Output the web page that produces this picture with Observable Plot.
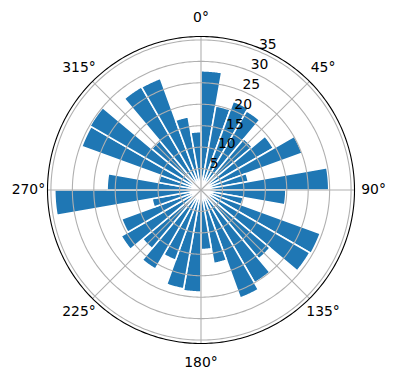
<!DOCTYPE html>
<html><head><meta charset="utf-8">
<script src="https://cdn.jsdelivr.net/npm/d3@7"></script>
<script src="https://cdn.jsdelivr.net/npm/@observablehq/plot@0.6"></script>
<style>body{margin:0;background:#fff}</style>
</head><body><div id="chart"></div>
<script>
// bar start angles (degrees, clockwise from north) and bar lengths
const barStart = [0,10,20,30,40,50,60,70,80,90,100,110,120,130,140,150,160,170,
                  180,190,200,210,220,230,240,250,260,270,280,290,300,310,320,330,340,350];
const barRadii = [27.8,19.9,22.0,21.3,15.6,19.5,25.1,11.2,29.8,
                  19.8,10.0,29.6,29.3,21.0,25.0,26.8,17.4,13.9,
                  23.8,23.4,17.4,21.3,17.8,21.5,19.7,11.6,34.1,
                  21.9,10.0,29.6,29.9,15.0,27.8,27.7,17.3,13.6];
const barSpan = 10;
const thetaTicks = [0,45,90,135,180,225,270,315];
const thetaLabels = ["0°","45°","90°","135°","180°","225°","270°","315°"];
const rTicks = [5,10,15,20,25,30,35];
const rMax = 35.8;
const thetaLabelR = 40.25;
const rLabelAngle = 22.5;

const lon = a => 180 - a;
const lat = r => 90 - r;

function sector(a0, a1, r) {
  const l1 = lon(a1), l2 = lon(a0), inner = 0.02;
  const ring = [[l1, lat(r)], [l1, lat(inner)], [l2, lat(inner)], [l2, lat(r)]];
  for (let L = l2 - 0.5; L > l1; L -= 0.5) ring.push([L, lat(r)]);
  ring.push([l1, lat(r)]);
  return {type: "Feature", geometry: {type: "Polygon", coordinates: [ring]}};
}
const bars = barStart.map((a, i) => sector(a, a + barSpan, barRadii[i]));
const circles = rTicks.map(r => d3.geoCircle().center([0, 90]).radius(r).precision(1)());
const spokes = thetaTicks.map(a => ({type: "LineString", coordinates: [[lon(a), 90], [lon(a), lat(rMax)]]}));
const outline = d3.geoCircle().center([0, 90]).radius(rMax).precision(1)();

const chart = Plot.plot({
  width: 396, height: 380,
  marginLeft: 47, marginRight: 42, marginTop: 36, marginBottom: 37,
  style: {fontFamily: "DejaVu Sans", fontSize: "13.9px", background: "#fff"},
  projection: {type: "azimuthal-equidistant", rotate: [0, -90], domain: outline, clip: false},
  marks: [
    Plot.geo(bars, {fill: "#1f77b4", stroke: "white", strokeWidth: 1.6}),
    Plot.geo(circles, {fill: "none", stroke: "#b0b0b0", strokeWidth: 1.1}),
    Plot.geo(spokes, {stroke: "#b0b0b0", strokeWidth: 1.1}),
    Plot.geo([outline], {fill: "none", stroke: "black", strokeWidth: 1.1}),
    Plot.text(thetaTicks, {x: a => lon(a), y: () => lat(thetaLabelR), text: (a, i) => thetaLabels[i],
      fontSize: 13.9, fill: "black", textAnchor: "middle", lineAnchor: "middle"}),
    Plot.text(rTicks, {x: () => lon(rLabelAngle), y: r => lat(r), text: r => String(r),
      fontSize: 13.9, fill: "black", textAnchor: "start", lineAnchor: "bottom", dx: 0.5, dy: -2})
  ]
});
document.getElementById("chart").appendChild(chart);
</script>
</body></html>
